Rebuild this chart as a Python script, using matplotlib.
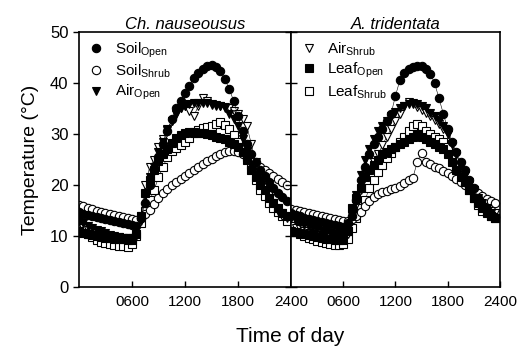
import numpy as np
import matplotlib
matplotlib.use("Agg")
import matplotlib.pyplot as plt

plt.rcParams['font.family'] = ['Liberation Sans', 'DejaVu Sans']
plt.rcParams['mathtext.fontset'] = 'custom'
plt.rcParams['mathtext.rm'] = 'Liberation Sans'
plt.rcParams['mathtext.it'] = 'Liberation Sans:italic'

# time of day (hhmm scale), half-hourly readings
hours = np.arange(0, 2400, 50)

# Ch. nauseousus
ch_soil_open = [14.7, 14.4, 14.1, 13.9, 13.7, 13.5, 13.3, 13.1, 12.9, 12.7, 12.5, 12.3,
                12.1, 12.0, 13.5, 16.5, 20.0, 23.0, 25.5, 28.0, 30.5, 33.0, 35.0, 36.5,
                38.0, 39.5, 41.0, 42.0, 42.8, 43.3, 43.5, 43.2, 42.3, 40.8, 38.8, 36.5,
                33.5, 30.5, 28.0, 26.0, 24.5, 23.0, 21.8, 20.6, 19.5, 18.5, 17.6, 16.8]
ch_soil_shrub = [16.0, 15.8, 15.6, 15.3, 15.0, 14.8, 14.5, 14.3, 14.1, 13.9, 13.7, 13.5,
                 13.3, 13.2, 13.5, 14.3, 15.2, 16.3, 17.5, 18.5, 19.3, 20.0, 20.6, 21.2,
                 21.7, 22.3, 22.9, 23.5, 24.1, 24.7, 25.2, 25.7, 26.1, 26.4, 26.6, 26.6,
                 26.4, 26.0, 25.4, 24.8, 24.2, 23.6, 23.0, 22.4, 21.8, 21.2, 20.6, 20.0]
ch_air_open = [13.0, 12.5, 12.0, 11.6, 11.2, 10.9, 10.6, 10.3, 10.1, 9.9, 9.7, 9.6,
               9.6, 10.0, 13.0, 18.0, 21.5, 23.5, 26.5, 28.5, 30.8, 32.5, 34.0, 35.0,
               35.5, 35.8, 36.0, 36.0, 36.0, 36.0, 35.8, 35.7, 35.5, 35.0, 34.0, 33.0,
               31.5, 29.0, 26.5, 24.0, 22.0, 20.5, 19.0, 17.5, 16.5, 15.5, 14.5, 14.0]
ch_air_shrub = [12.0, 11.6, 11.2, 10.9, 10.6, 10.4, 10.2, 10.0, 9.9, 9.8, 9.7, 9.6,
                9.5, 10.5, 14.0, 20.0, 23.5, 25.0, 27.5, 29.0, 31.0, 32.5, 34.0, 35.0,
                35.5, 34.5, 33.5, 35.5, 37.0, 36.5, 35.7, 35.5, 35.5, 35.3, 35.0, 34.5,
                34.0, 33.0, 31.5, 28.0, 24.5, 22.0, 20.0, 18.0, 16.5, 15.0, 14.0, 13.5]
ch_leaf_open = [11.0, 10.7, 10.4, 10.2, 10.0, 9.8, 9.7, 9.6, 9.5, 9.4, 9.4, 9.3,
                9.3, 10.5, 14.0, 18.5, 21.0, 23.0, 24.8, 26.0, 27.0, 28.3, 29.2, 29.8,
                30.2, 30.3, 30.3, 30.2, 30.2, 30.0, 29.8, 29.5, 29.3, 29.0, 28.5, 28.0,
                27.5, 26.5, 25.0, 23.0, 21.5, 20.0, 19.0, 17.5, 16.5, 15.5, 14.5, 14.0]
ch_leaf_shrub = [11.8, 11.0, 10.4, 9.8, 9.2, 8.9, 8.6, 8.4, 8.3, 8.1, 8.0, 7.8,
                 8.5, 10.0, 12.5, 15.0, 17.0, 19.0, 21.5, 23.5, 25.5, 26.7, 27.3, 27.8,
                 28.5, 29.3, 30.2, 30.8, 31.2, 31.4, 31.6, 32.0, 32.4, 31.8, 31.0, 29.8,
                 28.5, 27.5, 25.5, 24.0, 21.0, 19.0, 17.8, 16.5, 15.5, 14.8, 14.0, 13.0]

# A. tridentata
at_soil_open = [14.5, 14.2, 13.9, 13.6, 13.4, 13.2, 13.0, 12.8, 12.6, 12.4, 12.2, 12.0,
                11.8, 12.5, 14.0, 17.0, 21.0, 23.5, 26.0, 28.0, 29.5, 31.0, 32.5, 34.0,
                37.5, 40.5, 42.0, 42.8, 43.2, 43.3, 43.3, 42.8, 41.8, 40.0, 37.0, 34.0,
                31.0, 28.5, 26.5, 24.5, 23.0, 21.0, 19.5, 17.5, 16.0, 15.0, 14.3, 13.8]
at_soil_shrub = [15.3, 15.1, 14.9, 14.7, 14.5, 14.3, 14.1, 13.9, 13.7, 13.5, 13.3, 13.1,
                 13.0, 13.0, 13.3, 14.0, 14.8, 15.8, 16.8, 17.6, 18.2, 18.6, 18.9, 19.2,
                 19.5, 19.9, 20.4, 20.9, 21.4, 24.5, 26.3, 24.5, 24.2, 23.6, 23.3, 22.8,
                 22.3, 21.8, 21.2, 20.6, 20.1, 19.6, 19.0, 18.4, 17.8, 17.3, 16.9, 16.5]
at_air_open = [13.5, 13.0, 12.6, 12.2, 11.9, 11.6, 11.3, 11.0, 10.8, 10.6, 10.4, 10.2,
               10.0, 11.0, 14.0, 18.0, 22.0, 25.0, 27.0, 29.0, 30.5, 31.5, 32.5, 33.5,
               34.3, 35.0, 35.5, 35.8, 35.8, 35.8, 35.5, 35.0, 34.2, 33.5, 32.5, 31.5,
               30.0, 28.0, 26.0, 24.0, 22.0, 20.0, 19.0, 17.5, 16.5, 15.5, 14.5, 13.5]
at_air_shrub = [12.0, 11.6, 11.3, 11.0, 10.7, 10.5, 10.3, 10.1, 9.9, 9.8, 9.6, 9.5,
                9.5, 10.5, 13.0, 16.0, 19.0, 21.5, 23.0, 24.5, 26.0, 27.8, 29.5, 31.0,
                32.5, 34.0, 35.5, 36.3, 36.0, 35.3, 34.8, 34.2, 33.5, 32.7, 32.0, 31.0,
                30.0, 28.0, 26.0, 24.0, 22.0, 20.5, 19.0, 17.5, 16.5, 15.5, 15.0, 14.5]
at_leaf_open = [11.0, 10.8, 10.6, 10.4, 10.2, 10.0, 9.8, 9.6, 9.5, 9.4, 9.3, 9.2,
                9.2, 11.0, 15.5, 17.5, 19.5, 21.5, 23.0, 24.0, 25.0, 26.0, 26.5, 27.0,
                27.5, 28.0, 28.5, 29.0, 29.5, 30.0, 29.5, 29.0, 28.5, 28.0, 27.5, 27.0,
                26.0, 24.5, 23.0, 21.5, 20.5, 19.0, 17.5, 16.5, 15.5, 14.8, 14.0, 13.5]
at_leaf_shrub = [11.5, 11.0, 10.5, 10.1, 9.7, 9.4, 9.1, 8.9, 8.7, 8.5, 8.3, 8.2,
                 8.5, 9.5, 11.5, 13.5, 15.5, 17.0, 19.5, 21.0, 22.5, 24.0, 25.3, 26.3,
                 27.5, 28.5, 29.5, 30.5, 31.5, 32.0, 31.5, 30.5, 30.0, 29.5, 29.0, 28.5,
                 27.5, 26.0, 24.0, 22.0, 20.5, 19.0, 17.5, 16.0, 15.0, 14.5, 14.0, 13.5]

series_names = [r'Soil$_{\mathrm{Open}}$', r'Soil$_{\mathrm{Shrub}}$', r'Air$_{\mathrm{Open}}$',
                r'Air$_{\mathrm{Shrub}}$', r'Leaf$_{\mathrm{Open}}$', r'Leaf$_{\mathrm{Shrub}}$']
markers = ['o', 'o', 'v', 'v', 's', 's']
fills = ['black', 'white', 'black', 'white', 'black', 'white']

panels = [
    ('Ch. nauseousus', [ch_soil_open, ch_soil_shrub, ch_air_open, ch_air_shrub, ch_leaf_open, ch_leaf_shrub]),
    ('A. tridentata', [at_soil_open, at_soil_shrub, at_air_open, at_air_shrub, at_leaf_open, at_leaf_shrub]),
]

fig = plt.figure(figsize=(5.19, 3.51), dpi=100)
ax1 = fig.add_axes([0.152, 0.182, 0.409, 0.727])
ax2 = fig.add_axes([0.561, 0.182, 0.402, 0.727], sharey=ax1)
axes = [ax1, ax2]

handles = []
for ax, (title, data) in zip(axes, panels):
    # hollow series first, filled ones on top
    order = [5, 3, 1, 4, 2, 0]
    hs = {}
    for i in order:
        h, = ax.plot(hours, data[i], marker=markers[i], markerfacecolor=fills[i],
                     markeredgecolor='black', markeredgewidth=0.8, markersize=6,
                     color='black', linewidth=0.4, label=series_names[i])
        hs[i] = h
    handles.append(hs)
    ax.set_xlim(0, 2400)
    ax.set_ylim(0, 50)
    ax.set_xticks([600, 1200, 1800, 2400])
    ax.set_xticklabels(['0600', '1200', '1800', '2400'], fontsize=11)
    ax.tick_params(axis='x', direction='in', length=4, width=1, pad=6)
    ax.set_title(title, style='italic', fontsize=12, pad=1)
    for s in ax.spines.values():
        s.set_linewidth(1.2)

ax1.set_yticks([0, 10, 20, 30, 40, 50])
ax1.tick_params(axis='y', direction='out', length=4, width=1, labelsize=12)
ax2.tick_params(axis='y', direction='inout', length=8, width=1, labelleft=False)
ax1.set_ylabel('Temperature (°C)', fontsize=14, labelpad=8)

leg_kw = dict(loc='upper left', frameon=False, fontsize=11, handletextpad=0.6,
              borderaxespad=0.15, labelspacing=0.2, handlelength=1.2)
ax1.legend([handles[0][i] for i in (0, 1, 2)], [series_names[i] for i in (0, 1, 2)], **leg_kw)
ax2.legend([handles[1][i] for i in (3, 4, 5)], [series_names[i] for i in (3, 4, 5)], **leg_kw)
for leg in [ax1.get_legend(), ax2.get_legend()]:
    for line in leg.get_lines():
        line.set_linestyle('none')

fig.text(0.56, 0.025, 'Time of day', ha='center', fontsize=15)

plt.savefig('out.png', dpi=100)
